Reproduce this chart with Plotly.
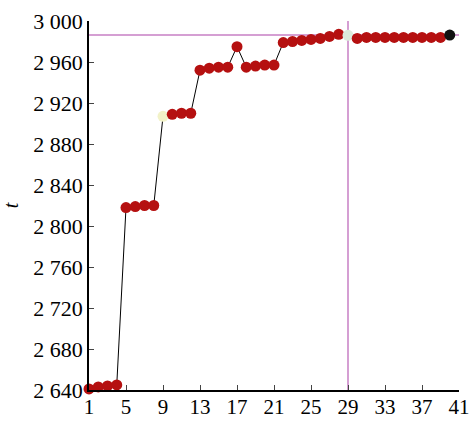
import plotly.graph_objects as go

iterations = list(range(1, 41))
t_values = [2641, 2643, 2644, 2645,
            2818, 2819, 2820, 2820,
            2907, 2909, 2910, 2910,
            2952, 2954, 2955, 2955, 2975, 2955, 2956, 2957, 2957,
            2979, 2980, 2981, 2982, 2983, 2985, 2987,
            2986,
            2983, 2984, 2984, 2984, 2984, 2984, 2984, 2984, 2984, 2984,
            2986.3]
best_t = 2986.3
best_iter = 29
x_ticks = [1, 5, 9, 13, 17, 21, 25, 29, 33, 37, 41]
y_ticks = [2640, 2680, 2720, 2760, 2800, 2840, 2880, 2920, 2960, 3000]
y_ticklabels = ["2 640", "2 680", "2 720", "2 760", "2 800", "2 840", "2 880", "2 920", "2 960", "3 000"]

special = {9: "#f2f2c8", 29: "#dcebdc", 40: "#111111"}
colors = [special.get(i, "#b51010") for i in iterations]

font = dict(family="Liberation Serif", size=22, color="black")
xfont = dict(family="Liberation Serif", size=21, color="black")

fig = go.Figure()
fig.add_shape(type="line", x0=1, x1=41, y0=best_t, y1=best_t, xref="x", yref="y",
              line=dict(color="#c77fc4", width=1.5), layer="below")
fig.add_shape(type="line", x0=best_iter, x1=best_iter, y0=2640, y1=3002, xref="x", yref="y",
              line=dict(color="#c77fc4", width=1.5), layer="below")
fig.add_trace(go.Scatter(x=iterations, y=t_values, mode="lines+markers",
                         line=dict(color="black", width=1),
                         marker=dict(color=colors, size=11, line=dict(width=0)),
                         cliponaxis=False, showlegend=False))

fig.update_layout(
    width=470, height=421,
    margin=dict(l=89, r=11, t=21, b=31, autoexpand=False),
    paper_bgcolor="white", plot_bgcolor="white",
    font=font,
    xaxis=dict(range=[1, 41], tickvals=x_ticks, ticks="inside", ticklen=5, tickwidth=1,
               showline=True, linecolor="black", linewidth=1.5, showgrid=False, zeroline=False,
               tickfont=xfont, automargin=False, ticklabelstandoff=-3),
    yaxis=dict(range=[2640, 3000], tickvals=y_ticks, ticktext=y_ticklabels, ticks="inside",
               ticklen=5, tickwidth=1, showline=True, linecolor="black", linewidth=1.5,
               showgrid=False, zeroline=False, tickfont=font, automargin=False,
               title=dict(text="<i>t</i>", font=dict(family="Liberation Serif", size=20), standoff=10)),
)
fig.write_html("out.html")
